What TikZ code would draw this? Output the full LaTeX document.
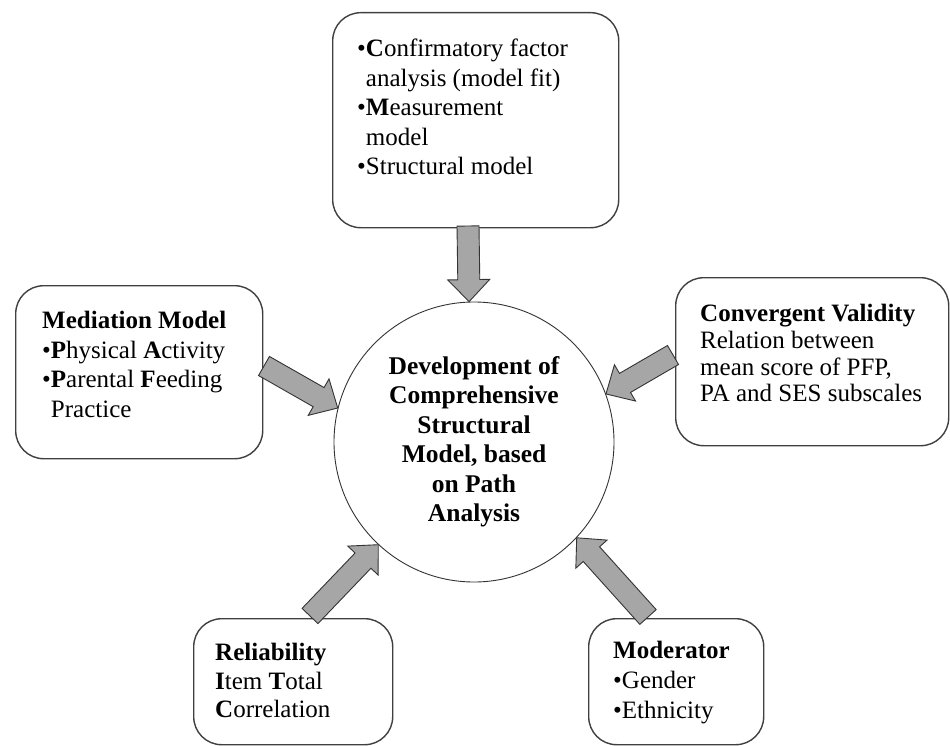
\documentclass[tikz,border=0pt]{standalone}
\usepackage{fontspec}
\setmainfont{Liberation Serif}
\usetikzlibrary{calc}
\tikzset{
  box/.style={draw=black!75, line width=1.4pt, rounded corners=28pt, inner sep=0pt, anchor=north west},
  txt/.style={anchor=north west, inner sep=0pt, align=left, font=\fontsize{25}{29.5}\selectfont},
  blockarr/.style={draw=black!80, fill=black!35, line width=0.9pt, line join=miter},
}
\newcommand\blockarrow[2]{%
  \coordinate (ba-h) at ($(#2)!22pt!(#1)$);
  \draw[blockarr] ($(#1)!11pt!90:(#2)$) -- ($(ba-h)!11pt!90:(#2)$) -- ($(ba-h)!21pt!90:(#2)$) -- (#2)
    -- ($(ba-h)!21pt!-90:(#2)$) -- ($(ba-h)!11pt!-90:(#2)$) -- ($(#1)!11pt!-90:(#2)$) -- cycle;}
\begin{document}
\begin{tikzpicture}[x=1pt,y=-1pt]
\useasboundingbox (0,0) rectangle (950,746);
\fill[white] (0,0) rectangle (950,746);
% boxes
\node[box, minimum width=286pt, minimum height=215pt] (top) at (332,12) {};
\node[box, minimum width=247pt, minimum height=173pt] (left) at (15,285) {};
\node[box, minimum width=273pt, minimum height=168pt] (right) at (675,277) {};
\node[box, minimum width=199pt, minimum height=126pt] (bl) at (193,618) {};
\node[box, minimum width=175pt, minimum height=126pt] (br) at (588,618) {};
% circle
\node[circle, draw=black!80, line width=0.9pt, minimum size=280pt, inner sep=0pt, align=center,
      font=\bfseries\fontsize{25.5}{29.5}\selectfont] (c) at (474,442)
  {Development of\\Comprehensive\\Structural\\Model, based\\on Path\\Analysis};
% texts
\node[txt] (toptxt) at (357,39) {•\textbf{C}onfirmatory factor\\\phantom{•}analysis (model fit)\\•\textbf{M}easurement\\\phantom{•}model\\•Structural model};
\node[txt] (lefttxt) at (42,311) {\textbf{Mediation Model}\\•\textbf{P}hysical \textbf{A}ctivity\\•\textbf{P}arental \textbf{F}eeding\\\phantom{•}Practice};
\node[txt, font=\fontsize{25}{26.8}\selectfont] (righttxt) at (700,304) {\textbf{Convergent Validity}\\Relation between\\mean score of PFP,\\PA and SES subscales};
\node[txt, font=\fontsize{25}{28.5}\selectfont] (bltxt) at (215,643) {\textbf{Reliability}\\\textbf{I}tem \textbf{T}otal\\\textbf{C}orrelation};
\node[txt, font=\fontsize{25}{30}\selectfont] (brtxt) at (613,641) {\textbf{Moderator}\\•Gender\\•Ethnicity};
% arrow ends
\coordinate (a1s) at (468,226);
\coordinate (a2s) at (264,366);
\coordinate (a3s) at (673,355);
\coordinate (a4s) at (310,616);
\coordinate (a5s) at (648,617);
\blockarrow{a1s}{c.92}
\blockarrow{a2s}{c.166}
\blockarrow{a3s}{c.20}
\blockarrow{a4s}{c.227}
\blockarrow{a5s}{c.317}
\end{tikzpicture}
\end{document}
